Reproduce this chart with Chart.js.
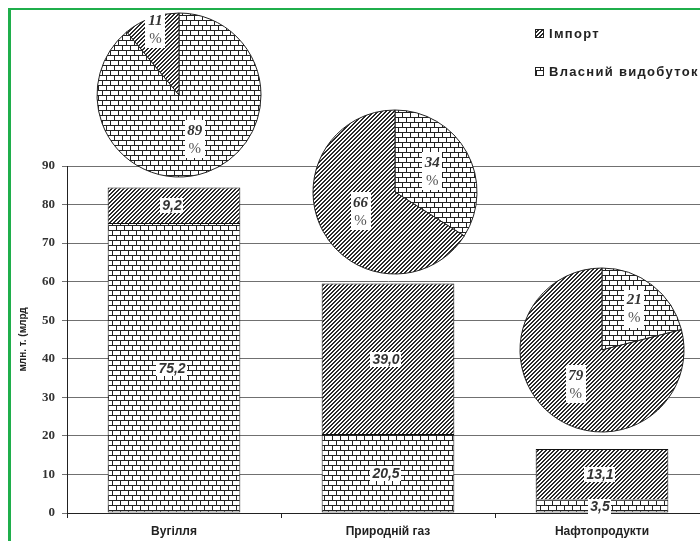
<!DOCTYPE html>
<html>
<head>
<meta charset="utf-8">
<script src="https://cdn.jsdelivr.net/npm/chart.js@4.4.0/dist/chart.umd.min.js"></script>
<style>
  html, body { margin: 0; padding: 0; background: #fff; overflow: hidden; }
  #wrap { position: relative; width: 700px; height: 541px; overflow: hidden; background: #fff; }
  #frame { position: absolute; left: 8px; top: 8px; width: 800px; height: 600px;
           border-left: 3px solid #1fae4b; border-top: 2px solid #1fae4b; }
  #bars { position: absolute; left: 0; top: 0; }
  .pie { position: absolute; }
  #pie0 { left: 94px; top: 10px; }
  #pie1 { left: 310px; top: 107px; }
  #pie2 { left: 517px; top: 265px; }
</style>
</head>
<body>
<div id="wrap">
  <div id="frame"></div>
  <canvas id="bars" width="720" height="541"></canvas>
  <canvas id="pie0" class="pie" width="170" height="170"></canvas>
  <canvas id="pie1" class="pie" width="170" height="170"></canvas>
  <canvas id="pie2" class="pie" width="170" height="170"></canvas>
</div>
<script>
// categories and values
const categories = ['Вугілля', 'Природній газ', 'Нафтопродукти'];
const ownProduction = [75.2, 20.5, 3.5];   // Власний видобуток
const imports = [9.2, 39.0, 13.1];         // Імпорт
const ownShare = [89, 34, 21];             // % in the pies
const importShare = [11, 66, 79];
const yTicks = [0, 10, 20, 30, 40, 50, 60, 70, 80, 90];
const axisTitle = 'млн. т. (млрд';

// how far out from the pie centre each label sits (fraction of radius)
const pieLabelPos = [[0.57, 0.85], [0.52, 0.48], [0.64, 0.52]];

// diagonal hatch ("/") pattern
function makeHatch() {
    const c = document.createElement('canvas');
    c.width = 4; c.height = 4;
    const g = c.getContext('2d');
    g.fillStyle = '#fff';
    g.fillRect(0, 0, 4, 4);
    g.fillStyle = '#2a2a2a';
    for (let x = 0; x < 4; x++) {
        g.fillRect(x, 3 - x, 1, 1);
        g.fillRect(x, (4 - x) % 4, 1, 1);
    }
    return g.createPattern(c, 'repeat');
}

// brick pattern
function makeBrick() {
    const c = document.createElement('canvas');
    c.width = 16; c.height = 10;
    const g = c.getContext('2d');
    g.fillStyle = '#fff';
    g.fillRect(0, 0, 16, 10);
    g.fillStyle = '#222';
    g.fillRect(0, 0, 16, 1);
    g.fillRect(0, 5, 16, 1);
    g.fillRect(0, 1, 1, 4);
    g.fillRect(8, 1, 1, 4);
    g.fillRect(4, 6, 1, 4);
    g.fillRect(12, 6, 1, 4);
    return g.createPattern(c, 'repeat');
}

const hatch = makeHatch();
const brick = makeBrick();

// value labels in white boxes on the bars
const barLabels = {
    id: 'barLabels',
    afterDatasetsDraw(chart) {
        const ctx = chart.ctx;
        ctx.save();
        ctx.font = 'italic bold 14px "Liberation Sans", Arial, sans-serif';
        ctx.textAlign = 'center';
        ctx.textBaseline = 'middle';
        chart.data.datasets.forEach(function (ds, i) {
            chart.getDatasetMeta(i).data.forEach(function (el, j) {
                const p = el.getProps(['x', 'y', 'base'], true);
                const cy = (p.y + p.base) / 2;
                const txt = ds.data[j].toFixed(1).replace('.', ',');
                const w = ctx.measureText(txt).width + 4;
                ctx.fillStyle = '#fff';
                ctx.fillRect(Math.round(p.x - 2 - w / 2), Math.round(cy - 7), Math.round(w), 15);
                ctx.fillStyle = '#333';
                ctx.fillText(txt, p.x - 2, cy + 1);
            });
        });
        ctx.restore();
    }
};

// legend in the top right corner
const cornerLegend = {
    id: 'cornerLegend',
    afterDraw(chart) {
        const ctx = chart.ctx;
        const items = chart.data.datasets.slice().reverse();
        ctx.save();
        ctx.font = 'bold 13px "Liberation Sans", Arial, sans-serif';
        ctx.letterSpacing = '1.3px';
        ctx.textBaseline = 'middle';
        ctx.textAlign = 'left';
        items.forEach(function (ds, i) {
            const y = 29 + i * 38;
            ctx.fillStyle = ds.backgroundColor;
            ctx.fillRect(535, y, 9, 9);
            ctx.strokeStyle = '#222';
            ctx.lineWidth = 1;
            ctx.strokeRect(535.5, y + 0.5, 8, 8);
            ctx.fillStyle = '#222';
            ctx.fillText(ds.label, 549, y + 5);
        });
        ctx.restore();
    }
};

new Chart(document.getElementById('bars'), {
    type: 'bar',
    data: {
        labels: categories,
        datasets: [{
            label: 'Власний видобуток',
            data: ownProduction,
            backgroundColor: brick,
            borderColor: '#111',
            borderWidth: 1,
            borderSkipped: false,
            barPercentage: 0.62,
            categoryPercentage: 1
        }, {
            label: 'Імпорт',
            data: imports,
            backgroundColor: hatch,
            borderColor: '#111',
            borderWidth: 1,
            borderSkipped: 'start',
            barPercentage: 0.62,
            categoryPercentage: 1
        }]
    },
    options: {
        responsive: false,
        animation: false,
        layout: { padding: { left: 0, top: 166, right: 11, bottom: 0 } },
        plugins: { legend: { display: false }, tooltip: { enabled: false } },
        scales: {
            x: {
                stacked: true,
                afterFit: function (s) { s.height = 28; },
                grid: { drawOnChartArea: false, tickLength: 5, color: '#222' },
                border: { color: '#222' },
                ticks: { color: '#222', padding: 6, font: { family: '"Liberation Sans", Arial, sans-serif', size: 12, weight: 'bold' } }
            },
            y: {
                stacked: true,
                min: 0,
                max: 90,
                afterFit: function (s) { s.width = 67; },
                afterBuildTicks: function (s) { s.ticks = yTicks.map(function (v) { return { value: v }; }); },
                grid: { color: '#707070', tickLength: 5 },
                border: { color: '#222' },
                ticks: { color: '#333', padding: 7, font: { family: '"Liberation Serif", "Times New Roman", serif', size: 13, weight: 'bold' } },
                title: {
                    display: true,
                    text: axisTitle,
                    color: '#222',
                    padding: { top: 17, bottom: 0 },
                    font: { family: '"Liberation Sans", Arial, sans-serif', size: 10, weight: 'bold' }
                }
            }
        }
    },
    plugins: [barLabels, cornerLegend]
});

// percentage labels on the pies
const pieLabels = {
    id: 'pieLabels',
    afterDatasetsDraw(chart) {
        const ctx = chart.ctx;
        const n = chart.options.plugins.pieIndex;
        ctx.save();
        ctx.textAlign = 'center';
        ctx.textBaseline = 'middle';
        chart.getDatasetMeta(0).data.forEach(function (arc, j) {
            const p = arc.getProps(['x', 'y', 'startAngle', 'endAngle', 'outerRadius'], true);
            const mid = (p.startAngle + p.endAngle) / 2;
            const r = pieLabelPos[n][j] * p.outerRadius;
            const lx = p.x + Math.cos(mid) * r;
            const ly = p.y + Math.sin(mid) * r;
            ctx.fillStyle = '#fff';
            ctx.fillRect(Math.round(lx - 10), Math.round(ly - 19), 20, 38);
            ctx.font = 'italic bold 15px "Liberation Serif", "Times New Roman", serif';
            ctx.fillStyle = '#333';
            ctx.fillText(String(chart.data.datasets[0].data[j]), lx, ly - 8);
            ctx.font = '15px "Liberation Serif", "Times New Roman", serif';
            ctx.fillStyle = '#555';
            ctx.fillText('%', lx, ly + 10);
        });
        ctx.restore();
    }
};

for (let i = 0; i < categories.length; i++) {
    new Chart(document.getElementById('pie' + i), {
        type: 'pie',
        data: {
            labels: ['Власний видобуток', 'Імпорт'],
            datasets: [{
                data: [ownShare[i], importShare[i]],
                backgroundColor: [brick, hatch],
                borderColor: '#222',
                borderWidth: 1
            }]
        },
        options: {
            responsive: false,
            animation: false,
            radius: 82,
            layout: { padding: 0 },
            plugins: { legend: { display: false }, tooltip: { enabled: false }, pieIndex: i }
        },
        plugins: [pieLabels]
    });
}
</script>
</body>
</html>
